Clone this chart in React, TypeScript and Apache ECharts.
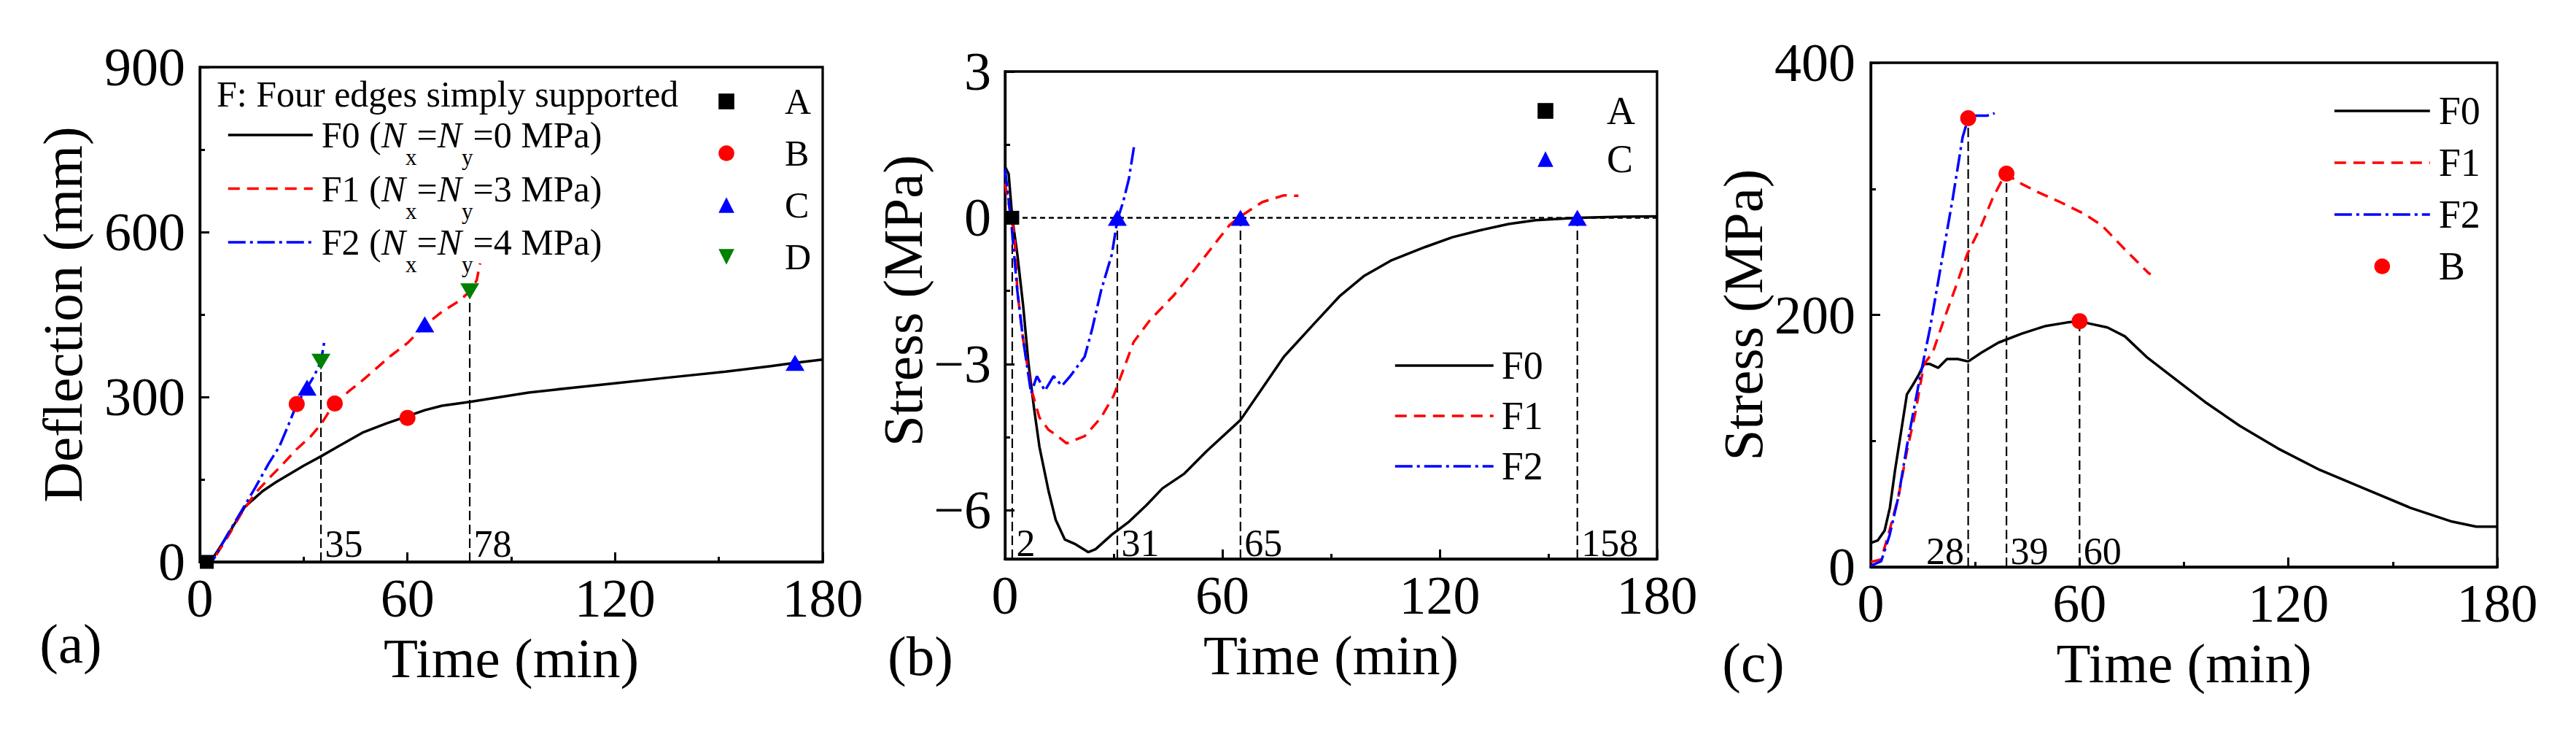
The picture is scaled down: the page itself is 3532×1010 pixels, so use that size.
import React, { useEffect, useRef } from 'react';
import * as echarts from 'echarts';

const FONT = 'Liberation Serif, Times New Roman, Times, serif';

// ---------- Panel (a): Deflection ----------
const a_F0 = [[0,0],[2,2],[4,9],[8,48],[13,100],[18,128],[22,145],[26,160],[30,175],[35,192],[40,210],[47,235],[54,252],[60,265],[65,276],[70,284],[78,291],[87,300],[95,308],[108,317],[120,325],[135,335],[152,346],[165,356],[172,362],[180,368]];
const a_F1 = [[0,0],[4,5],[8,45],[12,88],[16,125],[20,152],[24,178],[28,205],[32,228],[35,250],[37,270],[39,288],[43,310],[47,330],[51,352],[55,374],[60,398],[65,430],[70,455],[75,475],[78,492],[80,512],[81,543]];
const a_F2 = [[0,0],[4,5],[8,50],[12,92],[16,135],[20,180],[23,210],[26,255],[28,287],[31,317],[33,338],[35,364],[36,402]];
const a_A = [[2,0]];
const a_B = [[28,287],[39,288],[60,262]];
const a_C = [[31,317],[65,432],[172,362]];
const a_D = [[35,364],[78,492]];
const refA_t = [35, 78];
const refA_top = [364, 492];

// ---------- Panel (b): Stress at A/C ----------
const b_F0 = [[0,1.05],[1,0.9],[2,0],[3.4,-0.75],[5,-1.8],[6.5,-3.0],[8,-3.9],[9.5,-4.7],[12,-5.6],[14,-6.2],[16.5,-6.6],[19.5,-6.7],[23,-6.86],[25,-6.8],[29.5,-6.5],[34,-6.25],[39,-5.9],[43.5,-5.55],[49.5,-5.25],[55.5,-4.8],[65,-4.15],[71,-3.5],[77,-2.85],[85,-2.2],[92.5,-1.6],[99,-1.2],[106.5,-0.88],[116,-0.6],[123.5,-0.4],[131,-0.26],[139,-0.13],[146.5,-0.05],[158,0],[170,0.02],[180,0.03]];
const b_F1 = [[0,0.7],[2.6,-0.35],[3.4,-1.5],[5,-2.5],[7.2,-3.5],[9.5,-4.1],[12,-4.35],[14,-4.45],[17,-4.63],[22,-4.48],[26.5,-4.1],[30,-3.65],[32.5,-3.15],[35.5,-2.55],[40,-2.1],[46.5,-1.6],[52.5,-1.05],[58.8,-0.45],[62,-0.15],[65,0.03],[71,0.32],[77,0.46],[81,0.45]];
const b_F2 = [[0,1.0],[1.8,-0.15],[3.4,-1.5],[5,-2.5],[7.2,-3.6],[8.8,-3.25],[11,-3.55],[13.4,-3.25],[15.7,-3.45],[18,-3.25],[22,-2.85],[24,-2.3],[26.5,-1.5],[29.5,-0.75],[31,-0.05],[32.6,0.32],[34.2,0.8],[35.7,1.5]];
const b_A = [[2,0]];
const b_C = [[31,0],[65,0],[158,0]];
const refB_t = [2, 31, 65, 158];
const b_yLabels = [-6, -3, 0, 3];
const b_yMinor = [-4.5, -1.5, 1.5];

// ---------- Panel (c): Stress at B ----------
const c_F0 = [[0,19],[2,21],[4,29],[5.5,47],[7,77],[8.7,107],[10.4,137],[12,144],[13.7,152],[15.3,161],[17,161],[19.4,158],[21.9,165],[25,165],[28,163],[31.8,170],[36.7,178],[43.3,185],[50,191],[56.5,194],[60,195],[63,193],[68,190],[73,183],[79.5,166],[88,148],[96,131],[106,112],[117,94],[129,77],[142,62],[155,47],[167,36],[174,32],[180,32]];
const c_F1 = [[0,4],[3,6],[5.4,29],[7.9,55],[10.4,92],[12.8,122],[15.3,161],[17.8,170],[21,196],[24.4,222],[27.7,248],[31.8,271],[35.1,293],[38.7,312],[43.3,304],[48.3,297],[54.8,289],[61.4,280],[66.4,271],[73,252],[79.5,234],[80.4,232]];
const c_F2 = [[0,1],[3,4.5],[5.4,25],[7.9,55],[10.4,96],[13.7,144],[17,189],[20.3,241],[23.6,293],[26.4,341],[28,356],[30,358],[33.4,358],[35.6,360]];
const c_B = [[28,356],[39,312],[60,195]];
const refC_t = [28, 39, 60];
const refC_top = [356, 312, 195];

const legendLoads: Record<string, number> = { F0: 0, F1: 3, F2: 4 };

const LW = 3.5;
const styleF: Record<string, any> = {
  F0: { color: '#000000', width: LW, type: 'solid' },
  F1: { color: '#ff0000', width: LW, type: [16, 10] },
  F2: { color: '#0000ff', width: LW, type: [24, 6, 4, 6] },
};
const markerStyle: Record<string, any> = {
  A: { symbol: 'rect', size: 19, color: '#000000', rotate: 0 },
  B: { symbol: 'circle', size: 22, color: '#ff0000', rotate: 0 },
  C: { symbol: 'triangle', size: [26, 22], color: '#0000ff', rotate: 0 },
  D: { symbol: 'triangle', size: [26, 22], color: '#008000', rotate: 180 },
};

function lineS(name: string, data: number[][], gi: number, yi: number) {
  const st = styleF[name];
  return {
    type: 'line', name, data, xAxisIndex: gi, yAxisIndex: yi,
    symbol: 'none', showSymbol: false, color: st.color,
    lineStyle: { ...st }, z: 3, silent: true,
  };
}
function markS(name: string, data: number[][], gi: number, yi: number) {
  const m = markerStyle[name];
  return {
    type: 'line', name, data, xAxisIndex: gi, yAxisIndex: yi,
    symbol: m.symbol, symbolSize: m.size, symbolRotate: m.rotate, showSymbol: true,
    color: m.color, itemStyle: { color: m.color, opacity: 1 },
    lineStyle: { opacity: 0, width: 0 }, z: 6, silent: true,
  };
}
function refLines(ts: number[], base: number, tops: number[] | number, gi: number, yi: number) {
  return ts.map((t, k) => ({
    type: 'line', data: [[t, base], [t, Array.isArray(tops) ? tops[k] : tops]],
    xAxisIndex: gi, yAxisIndex: yi, symbol: 'none', showSymbol: false,
    lineStyle: { color: '#000', width: 2.2, type: [13, 6] }, z: 2, silent: true,
  }));
}
function refLabels(ts: number[], base: number, gi: number, yi: number, dy: number, leftIdx: number[]) {
  return {
    type: 'line', xAxisIndex: gi, yAxisIndex: yi, silent: true, z: 7,
    symbol: 'circle', symbolSize: 1, showSymbol: true,
    itemStyle: { color: 'rgba(255,255,255,0)', opacity: 1 },
    lineStyle: { opacity: 0, width: 0 },
    data: ts.map((t, k) => ({
      value: [t, base],
      label: leftIdx.includes(k) ? { position: 'left' } : undefined,
    })),
    label: {
      show: true, position: 'right', distance: 5, offset: [0, dy],
      formatter: (p: any) => String(p.value[0]),
      fontFamily: FONT, fontSize: 52, color: '#000000',
      textBorderWidth: 0, textShadowBlur: 0,
    },
  };
}

const tickStyle = { color: '#000', width: 3 };
function xAxisFor(gi: number) {
  return {
    gridIndex: gi, type: 'value', min: 0, max: 180, interval: 60,
    axisLine: { onZero: false, lineStyle: { color: '#000', width: 3.3 } },
    axisTick: { inside: true, length: 13, lineStyle: tickStyle },
    minorTick: { show: true, splitNumber: 2, length: 7, lineStyle: tickStyle },
    splitLine: { show: false }, minorSplitLine: { show: false },
    axisLabel: { fontFamily: FONT, fontSize: 74, color: '#000', margin: 13, showMinLabel: true, showMaxLabel: true },
    name: 'Time (min)', nameLocation: 'middle', nameGap: 93,
    nameTextStyle: { fontFamily: FONT, fontSize: 77, color: '#000' },
  };
}
function yAxisBase(gi: number, min: number, max: number, name: string, nameGap: number, margin: number, shiftUp = 0) {
  return {
    gridIndex: gi, type: 'value', min, max, position: 'left',
    axisLine: { onZero: false, lineStyle: { color: '#000', width: 3.3 } },
    axisTick: { inside: true, length: 13, lineStyle: tickStyle },
    splitLine: { show: false },
    axisLabel: { fontFamily: FONT, fontSize: 74, color: '#000', margin, showMinLabel: true, showMaxLabel: true },
    name, nameLocation: 'middle', nameGap,
    nameTextStyle: { fontFamily: FONT, fontSize: 77, color: '#000', padding: [0, 0, 0, shiftUp * 2] },
  };
}

const legendText = { fontFamily: FONT, color: '#000' };
const hideSym = { opacity: 0 };
const legendLine = { width: LW };

function buildOption() {
  const grids = [
    { left: 274, top: 92, width: 854, height: 678 },
    { left: 1378, top: 98, width: 894, height: 668 },
    { left: 2565, top: 86, width: 859, height: 691 },
  ].map((g) => ({ ...g, show: true, borderColor: '#000', borderWidth: 3.3, backgroundColor: 'transparent' }));

  const yA = { ...yAxisBase(0, 0, 900, 'Deflection (mm)', 150, 20), interval: 300,
    minorTick: { show: true, splitNumber: 2, length: 7, lineStyle: tickStyle }, minorSplitLine: { show: false } };
  const yB = yAxisBase(1, -7, 3, 'Stress (MPa)', 89, 19, 20);
  (yB.axisLabel as any).customValues = b_yLabels;
  (yB.axisLabel as any).formatter = (v: number) => (v < 0 ? '\u2212' + Math.abs(v) : String(v));
  (yB.axisTick as any).customValues = b_yLabels;
  const yBminor = {
    gridIndex: 1, type: 'value', min: -7, max: 3, position: 'left', offset: 0,
    axisLine: { show: false }, axisLabel: { show: false }, splitLine: { show: false },
    axisTick: { inside: true, length: 7, lineStyle: tickStyle, customValues: b_yMinor },
  };
  const yC = { ...yAxisBase(2, 0, 400, 'Stress (MPa)', 137, 21), interval: 200,
    minorTick: { show: true, splitNumber: 2, length: 7, lineStyle: tickStyle }, minorSplitLine: { show: false } };

  const series: any[] = [
    // panel a
    ...refLines(refA_t, 0, refA_top, 0, 0),
    refLabels(refA_t, 0, 0, 0, -25, []),
    lineS('F0', a_F0, 0, 0), lineS('F1', a_F1, 0, 0), lineS('F2', a_F2, 0, 0),
    markS('A', a_A, 0, 0), markS('B', a_B, 0, 0), markS('C', a_C, 0, 0), markS('D', a_D, 0, 0),
    // panel b
    {
      type: 'line', data: [[0, 0], [180, 0]], xAxisIndex: 1, yAxisIndex: 1, symbol: 'none',
      lineStyle: { color: '#000', width: 2.5, type: [7, 5] }, z: 2, silent: true,
    },
    ...refLines(refB_t, -7, 0, 1, 1),
    refLabels(refB_t, -7, 1, 1, -22, []),
    lineS('F0', b_F0, 1, 1), lineS('F1', b_F1, 1, 1), lineS('F2', b_F2, 1, 1),
    markS('A', b_A, 1, 1), markS('C', b_C, 1, 1),
    // panel c
    ...refLines(refC_t, 0, refC_top, 2, 3),
    refLabels(refC_t, 0, 2, 3, -22, [0]),
    lineS('F0', c_F0, 2, 3), lineS('F1', c_F1, 2, 3), lineS('F2', c_F2, 2, 3),
    markS('B', c_B, 2, 3),
  ];

  const richA = {
    t: { fontFamily: FONT, fontSize: 50, color: '#000', lineHeight: 50, verticalAlign: 'middle' },
    i: { fontFamily: FONT, fontSize: 50, fontStyle: 'italic', color: '#000', lineHeight: 50, verticalAlign: 'middle' },
    s: { fontFamily: FONT, fontSize: 31, color: '#000', lineHeight: 32, padding: [40, 0, 0, 0], verticalAlign: 'top' },
  };
  const lineItems = ['F0', 'F1', 'F2'].map((n) => ({ name: n, itemStyle: hideSym }));

  const legend = [
    {
      orient: 'vertical', left: 306, top: 155, itemWidth: 116, itemHeight: 27, itemGap: 2.5,
      selectedMode: false, data: lineItems, lineStyle: legendLine,
      formatter: (n: string) => `{t|${n} (}{i|N}{s|x}{t|=}{i|N}{s|y}{t|=${legendLoads[n]} MPa)}`,
      textStyle: { ...legendText, fontSize: 50, padding: [0, 0, 0, 7], rich: richA },
    },
    {
      orient: 'vertical', left: 916, top: 109, itemWidth: 150, itemHeight: 27, itemGap: 21,
      selectedMode: false, data: ['A', 'B', 'C', 'D'],
      textStyle: { ...legendText, fontSize: 50, lineHeight: 50 },
    },
    {
      orient: 'vertical', left: 2035, top: 120, itemWidth: 158, itemHeight: 27, itemGap: 12,
      selectedMode: false, data: ['A', 'C'],
      textStyle: { ...legendText, fontSize: 54, lineHeight: 54 },
    },
    {
      orient: 'vertical', left: 1906, top: 469, itemWidth: 135, itemHeight: 27, itemGap: 15,
      selectedMode: false, data: lineItems, lineStyle: legendLine,
      textStyle: { ...legendText, fontSize: 54, lineHeight: 54, padding: [0, 0, 0, 6] },
    },
    {
      orient: 'vertical', left: 3194, top: 120, itemWidth: 131, itemHeight: 27, itemGap: 17,
      selectedMode: false, data: [...lineItems, { name: 'B' }], lineStyle: legendLine,
      textStyle: { ...legendText, fontSize: 54, lineHeight: 54, padding: [0, 0, 0, 7] },
    },
  ];

  const graphic = [
    { type: 'text', left: 297, top: 104, style: { text: 'F: Four edges simply supported', font: `50px ${FONT}`, fill: '#000' } },
    { type: 'text', x: 97, y: 882, style: { text: '(a)', font: `77px ${FONT}`, fill: '#000', align: 'center', verticalAlign: 'middle' } },
    { type: 'text', x: 1262, y: 899, style: { text: '(b)', font: `77px ${FONT}`, fill: '#000', align: 'center', verticalAlign: 'middle' } },
    { type: 'text', x: 2404, y: 908, style: { text: '(c)', font: `77px ${FONT}`, fill: '#000', align: 'center', verticalAlign: 'middle' } },
  ];

  return {
    animation: false,
    backgroundColor: '#ffffff',
    textStyle: { fontFamily: FONT },
    grid: grids,
    xAxis: [xAxisFor(0), xAxisFor(1), xAxisFor(2)],
    yAxis: [yA, yB, yBminor, yC],
    legend,
    graphic,
    series,
  };
}

export default function App() {
  const ref = useRef<HTMLDivElement>(null);
  useEffect(() => {
    if (!ref.current) return;
    const chart = echarts.init(ref.current, null, { renderer: 'svg' });
    chart.setOption(buildOption() as any);
    return () => chart.dispose();
  }, []);
  return (
    <div
      ref={ref}
      style={{ position: 'absolute', left: 0, top: 0, width: 3532, height: 1010, background: '#fff' }}
    />
  );
}
